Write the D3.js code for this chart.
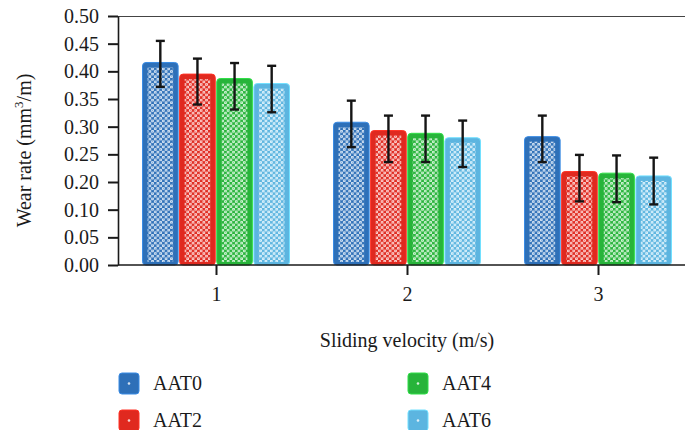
<!DOCTYPE html>
<html>
<head>
<meta charset="utf-8">
<script src="https://cdn.jsdelivr.net/npm/d3@7"></script>
<style>
  html, body { margin: 0; padding: 0; background: #fff; }
  svg { display: block; font-family: "Liberation Serif", "DejaVu Serif", serif; }
</style>
</head>
<body>
<svg id="chart" width="685" height="430"></svg>
<script>
// ---- data ----
const categories = ["1", "2", "3"];
const seriesNames = ["AAT0", "AAT2", "AAT4", "AAT6"];
const seriesColors = ["#2e70b8", "#e0291f", "#27b43a", "#5cb5e0"];
const values = {
  AAT0: [0.416, 0.308, 0.282],
  AAT2: [0.395, 0.293, 0.219],
  AAT4: [0.387, 0.288, 0.216],
  AAT6: [0.378, 0.280, 0.211]
};
const errHigh = {
  AAT0: [0.455, 0.347, 0.320],
  AAT2: [0.423, 0.320, 0.249],
  AAT4: [0.415, 0.320, 0.248],
  AAT6: [0.410, 0.311, 0.244]
};
const errLow = {
  AAT0: [0.372, 0.263, 0.236],
  AAT2: [0.340, 0.236, 0.130],
  AAT4: [0.331, 0.236, 0.127],
  AAT6: [0.326, 0.227, 0.119]
};
// tick labels exactly as printed on the reference axis (0.15 is absent)
const yTickValues = [0.00, 0.05, 0.10, 0.20, 0.25, 0.30, 0.35, 0.40, 0.45, 0.50];
const yTitle = "Wear rate (mm";
const xTitle = "Sliding velocity (m/s)";

// ---- layout ----
const svg = d3.select("#chart");
const pLeft = 118, pRight = 685, pTop = 16, pBottom = 265;

// equally spaced tick positions, as printed
const tickStep = (pBottom - pTop) / (yTickValues.length - 1);
const y = d3.scaleLinear()
  .domain(yTickValues)
  .range(yTickValues.map((d, i) => pBottom - i * tickStep));

const x0 = d3.scalePoint().domain(categories).range([216, 598]);
const x1 = d3.scaleBand().domain(seriesNames).range([-73.5, 73.5]).paddingInner(0.04);
const color = d3.scaleOrdinal().domain(seriesNames).range(seriesColors);

// ---- patterns ----
const defs = svg.append("defs");
seriesNames.forEach((s, i) => {
  const c = d3.color(color(s));
  const pw = 5.4, ph = 5.2;
  const p = defs.append("pattern")
    .attr("id", "pat" + i)
    .attr("patternUnits", "userSpaceOnUse")
    .attr("width", pw).attr("height", ph);
  p.append("rect").attr("width", pw).attr("height", ph).attr("fill", c.formatHex());
  const pts = [[1.35, 1.3], [4.05, 3.9], [-1.35, 3.9], [6.75, 1.3]];
  pts.forEach(([cx, cy]) => {
    p.append("circle").attr("cx", cx).attr("cy", cy).attr("r", 1.45)
      .attr("fill", "#ffffff").attr("fill-opacity", 0.85);
    p.append("circle").attr("cx", cx).attr("cy", cy).attr("r", 0.55)
      .attr("fill", c.brighter(0.4).formatHex()).attr("fill-opacity", 0.6);
  });
});

// ---- top frame line ----
svg.append("line")
  .attr("x1", pLeft).attr("x2", pRight).attr("y1", pTop + 0.5).attr("y2", pTop + 0.5)
  .attr("stroke", "#444").attr("stroke-width", 1.2);

// ---- bars ----
const bw = x1.bandwidth();
categories.forEach((cat, ci) => {
  seriesNames.forEach((s, si) => {
    const bx = x0(cat) + x1(s);
    const v = values[s][ci];
    const c = d3.color(color(s));
    svg.append("rect")
      .attr("x", bx).attr("y", y(v))
      .attr("width", bw).attr("height", y(0) - y(v))
      .attr("rx", 3.5).attr("ry", 3.5)
      .attr("fill", c.formatHex())
      .attr("stroke", c.brighter(0.6).formatHex())
      .attr("stroke-width", 1);
    svg.append("rect")
      .attr("x", bx + 5).attr("y", y(v) + 5)
      .attr("width", bw - 10).attr("height", Math.max(0, y(0) - y(v) - 8))
      .attr("fill", "url(#pat" + si + ")");
  });
});

// ---- error bars ----
categories.forEach((cat, ci) => {
  seriesNames.forEach((s) => {
    const cx = x0(cat) + x1(s) + bw / 2;
    const hi = y(errHigh[s][ci]), lo = y(errLow[s][ci]);
    const g = svg.append("g").attr("stroke", "#151515").attr("stroke-width", 2.4);
    g.append("line").attr("x1", cx).attr("x2", cx).attr("y1", hi).attr("y2", lo);
    g.append("line").attr("x1", cx - 4.5).attr("x2", cx + 4.5).attr("y1", hi).attr("y2", hi);
    g.append("line").attr("x1", cx - 4.5).attr("x2", cx + 4.5).attr("y1", lo).attr("y2", lo);
  });
});

// ---- y axis ----
const yAxis = svg.append("g")
  .attr("transform", `translate(${pLeft},0)`)
  .call(d3.axisLeft(y).tickValues(yTickValues).tickFormat(d3.format(".2f"))
    .tickSize(10).tickSizeOuter(0).tickPadding(9));
yAxis.attr("font-family", "Liberation Serif, serif");
yAxis.select(".domain").attr("stroke", "#1a1a1a").attr("stroke-width", 1.6);
yAxis.selectAll(".tick line").attr("stroke", "#1a1a1a").attr("stroke-width", 2);
yAxis.selectAll(".tick text").attr("font-size", 20).attr("fill", "#1a1a1a");

// ---- x axis ----
svg.append("line")
  .attr("x1", pLeft).attr("x2", pRight).attr("y1", pBottom).attr("y2", pBottom)
  .attr("stroke", "#1a1a1a").attr("stroke-width", 1.6);
const xAxis = svg.append("g")
  .attr("transform", `translate(0,${pBottom})`)
  .call(d3.axisBottom(x0).tickSize(10).tickSizeOuter(0).tickPadding(12));
xAxis.attr("font-family", "Liberation Serif, serif");
xAxis.select(".domain").remove();
xAxis.selectAll(".tick line").attr("stroke", "#1a1a1a").attr("stroke-width", 2);
xAxis.selectAll(".tick text").attr("font-size", 20).attr("fill", "#1a1a1a");

// ---- axis titles ----
svg.append("text")
  .attr("x", x0("2")).attr("y", 347)
  .attr("text-anchor", "middle").attr("font-size", 20).attr("fill", "#1a1a1a")
  .text(xTitle);

const yt = svg.append("text")
  .attr("transform", `translate(31,${(pTop + pBottom) / 2 + 10}) rotate(-90)`)
  .attr("text-anchor", "middle").attr("font-size", 20).attr("fill", "#1a1a1a");
yt.append("tspan").text(yTitle);
yt.append("tspan").attr("font-size", 13).attr("dy", -8).text("3");
yt.append("tspan").attr("dy", 8).text("/m)");

// ---- legend ----
const legendPos = [
  { s: "AAT0", x: 119, y: 373 },
  { s: "AAT2", x: 119, y: 410 },
  { s: "AAT4", x: 408, y: 373 },
  { s: "AAT6", x: 408, y: 410 }
];
legendPos.forEach(({ s, x, y: ly }) => {
  const c = d3.color(color(s));
  svg.append("rect")
    .attr("x", x).attr("y", ly).attr("width", 20).attr("height", 21)
    .attr("rx", 3).attr("fill", c.formatHex())
    .attr("stroke", c.brighter(0.6).formatHex()).attr("stroke-width", 1);
  svg.append("circle").attr("cx", x + 10).attr("cy", ly + 10.5).attr("r", 1.3)
    .attr("fill", "#ffffff").attr("fill-opacity", 0.8);
  svg.append("text")
    .attr("x", x + 34).attr("y", ly + 17)
    .attr("font-size", 20).attr("fill", "#1a1a1a")
    .text(s);
});
</script>
</body>
</html>
